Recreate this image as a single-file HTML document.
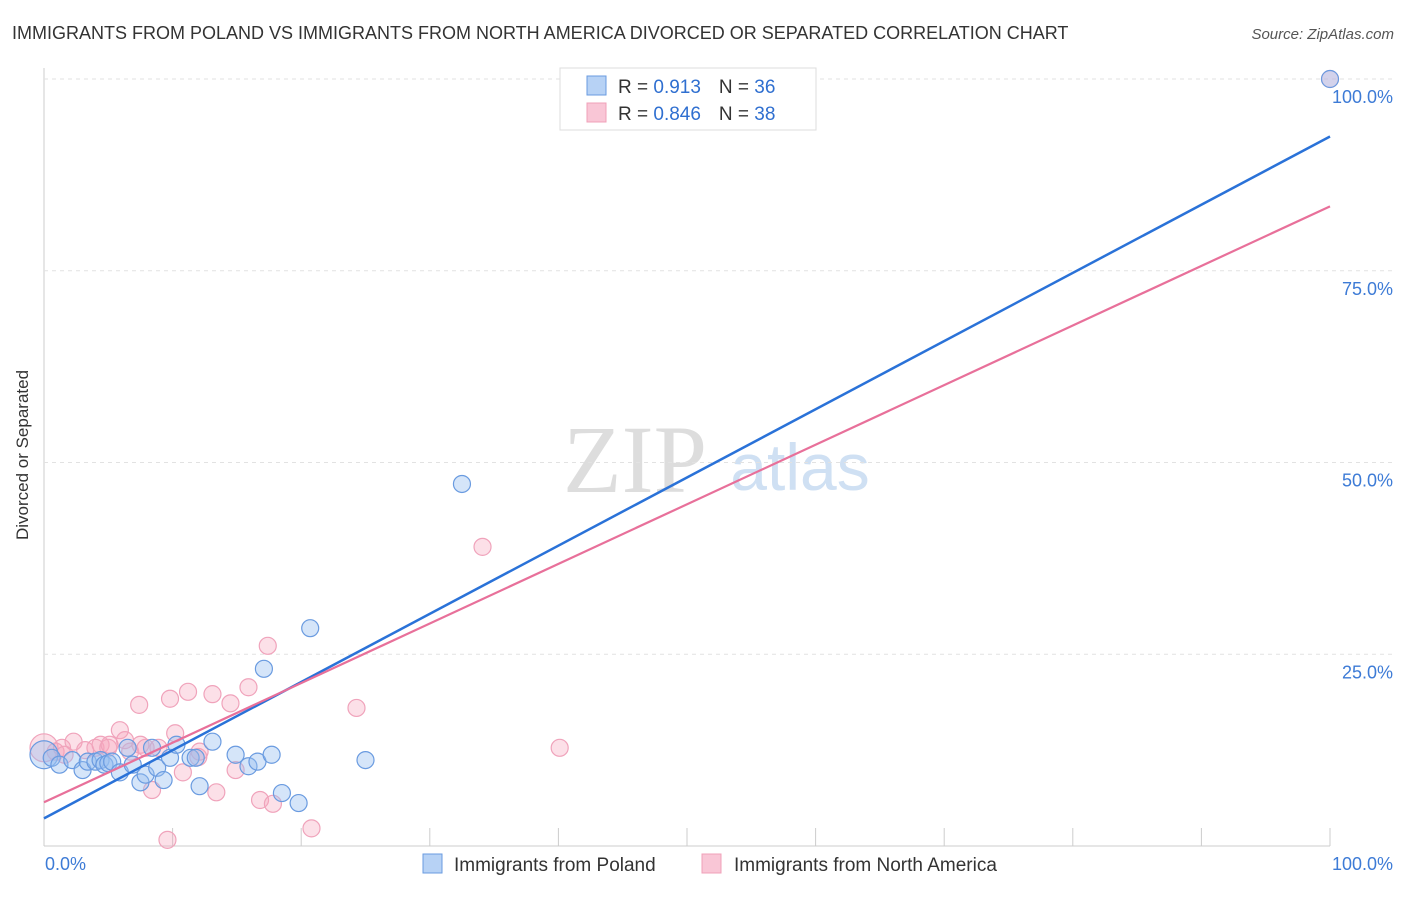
<!DOCTYPE html>
<html><head><meta charset="utf-8"><style>
body{margin:0;background:#fff;font-family:"Liberation Sans",sans-serif;}
</style></head><body>
<svg id="c" width="1406" height="892" xmlns="http://www.w3.org/2000/svg">
<text x="12" y="39" font-size="18" fill="#333">IMMIGRANTS FROM POLAND VS IMMIGRANTS FROM NORTH AMERICA DIVORCED OR SEPARATED CORRELATION CHART</text>
<text x="1394" y="39" font-size="15" fill="#555" font-style="italic" text-anchor="end">Source: ZipAtlas.com</text>
<text x="28" y="455" font-size="17" fill="#333" text-anchor="middle" transform="rotate(-90 28 455)">Divorced or Separated</text>
<text x="635" y="492" font-size="96" fill="#ddd" font-family="Liberation Serif,serif" text-anchor="middle">ZIP</text>
<text x="800" y="490" font-size="66" fill="#cfe0f3" text-anchor="middle">atlas</text>
<g id="grid"></g><g id="pts"></g><g id="lines"></g>
<g>
<rect x="560" y="68" width="256" height="62" fill="#fff" stroke="#ddd"/>
<rect x="587" y="76" width="19" height="19" fill="#b7d2f5" stroke="#6a9be0"/>
<rect x="587" y="103" width="19" height="19" fill="#f9c6d6" stroke="#f0a0b8"/>
<text x="618" y="93" font-size="19" fill="#333">R = <tspan fill="#2f6fd0">0.913</tspan><tspan dx="18">N = </tspan><tspan fill="#2f6fd0">36</tspan></text>
<text x="618" y="120" font-size="19" fill="#333">R = <tspan fill="#2f6fd0">0.846</tspan><tspan dx="18">N = </tspan><tspan fill="#2f6fd0">38</tspan></text>
</g>
<g>
<rect x="423" y="854" width="19" height="19" fill="#b7d2f5" stroke="#6a9be0"/>
<text x="454" y="871" font-size="19" fill="#333">Immigrants from Poland</text>
<rect x="702" y="854" width="19" height="19" fill="#f9c6d6" stroke="#f0a0b8"/>
<text x="734" y="871" font-size="19" fill="#333">Immigrants from North America</text>
</g>
</svg>
<script>
const blueX=[0,0.6,1.2,2.2,3.0,3.4,4.0,4.4,4.7,5.0,5.3,5.9,6.5,6.9,7.5,7.9,8.4,8.8,9.3,9.8,10.3,11.4,11.8,12.1,13.1,14.9,15.9,16.6,17.1,17.7,18.5,19.8,20.7,25.0,32.5,100];
const blueY=[11.9,11.5,10.6,11.2,9.9,11.0,11.0,11.2,10.6,10.8,11.0,9.6,12.8,10.6,8.3,9.3,12.8,10.2,8.6,11.5,13.2,11.5,11.5,7.8,13.6,11.9,10.4,11.0,23.1,11.9,6.9,5.6,28.4,11.2,47.2,100];
const pinkX=[0,0.9,1.4,1.6,2.3,3.2,4.0,4.4,5.0,5.1,5.9,6.3,6.7,7.4,7.5,7.9,8.4,8.9,9.6,9.8,10.2,10.8,11.2,12.0,12.1,13.1,13.4,14.5,14.9,15.9,16.8,17.4,17.8,20.8,24.3,34.1,40.1,100];
const pinkY=[12.8,12.3,12.8,11.9,13.6,12.5,12.8,13.2,12.8,13.2,15.1,13.8,12.3,18.4,13.2,12.8,7.3,12.8,0.8,19.2,14.7,9.6,20.1,11.6,12.3,19.8,7.0,18.6,9.9,20.7,6.0,26.1,5.5,2.3,18.0,39.0,12.8,100];
const blueTrend=[3.6,92.5];
const pinkTrend=[5.7,83.4];
const yTicks=[25,50,75,100];
const yTickLabels=["25.0%","50.0%","75.0%","100.0%"];
const xTicks=[10,20,30,40,50,60,70,80,90,100];
const NS="http://www.w3.org/2000/svg";
const X=v=>44+v*12.86, Y=v=>846-v*7.67;
function mk(p,t,a){const e=document.createElementNS(NS,t);for(const k in a)e.setAttribute(k,a[k]);p.appendChild(e);return e;}
const grid=document.getElementById('grid');
let ax=mk(grid,'line',{x1:44,y1:68,x2:44,y2:846,stroke:'#ccc'});


let bx=mk(grid,'line',{x1:44,y1:846,x2:1330,y2:846,stroke:'#ccc'});


yTicks.forEach((t,i)=>{
 const g=mk(grid,'line',{x1:44,x2:1394,y1:Y(t),y2:Y(t),stroke:'#e2e2e2','stroke-dasharray':'4,4'});
 
 
 const l=mk(grid,'text',{x:1393,y:Y(t)+24,'font-size':18,fill:'#3d7bd6','text-anchor':'end'});
 l.textContent=yTickLabels[i];
 
 
});
xTicks.forEach(t=>{
 const k=mk(grid,'line',{x1:X(t),x2:X(t),y1:828,y2:846,stroke:'#ccc'});
 
 
});
const xl0=mk(grid,'text',{x:45,y:870,'font-size':18,fill:'#3d7bd6'});xl0.textContent='0.0%';


const xl1=mk(grid,'text',{x:1393,y:870,'font-size':18,fill:'#3d7bd6','text-anchor':'end'});xl1.textContent='100.0%';


const pts=document.getElementById('pts');
function series(xs,ys,fill,stroke,name){xs.forEach((x,i)=>{
 const c=mk(pts,'circle',{cx:X(x),cy:Y(ys[i]),r:(i==0?14:8.5),fill:fill,stroke:stroke,'stroke-width':1.2});
 
 
});}
series(pinkX,pinkY,'rgba(245,165,190,0.35)','#f0a3bb','point-north-america');
series(blueX,blueY,'rgba(150,190,240,0.4)','#6a9be0','point-poland');
const lines=document.getElementById('lines');
const bl=mk(lines,'line',{x1:X(0),y1:Y(blueTrend[0]),x2:X(100),y2:Y(blueTrend[1]),stroke:'#2a72d8','stroke-width':2.5});


const pl=mk(lines,'line',{x1:X(0),y1:Y(pinkTrend[0]),x2:X(100),y2:Y(pinkTrend[1]),stroke:'#e8709a','stroke-width':2.2});


</script>
</body></html>
